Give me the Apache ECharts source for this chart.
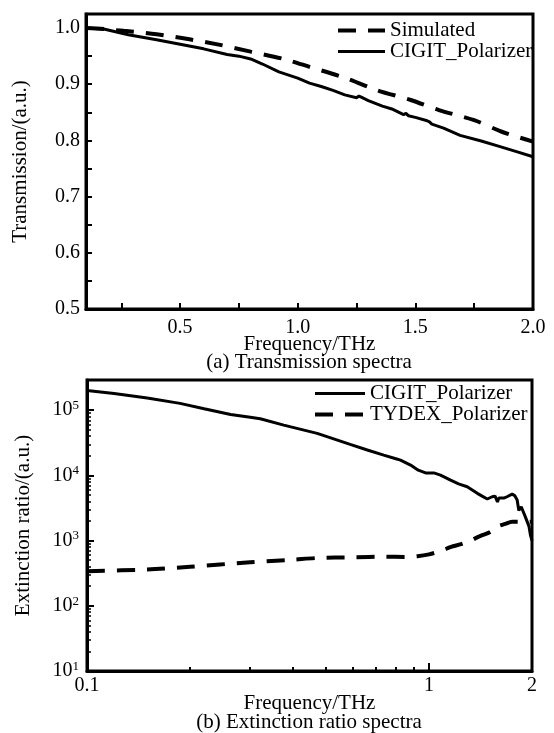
<!DOCTYPE html>
<html><head><meta charset="utf-8">
<script src="https://cdn.jsdelivr.net/npm/echarts@6/dist/echarts.min.js"></script>
<style>html,body{margin:0;padding:0;background:#fff}#c{width:554px;height:733px}</style>
</head><body><div id="c"></div>
<script>
const FONT = 'Liberation Serif';

// ---------- (a) Transmission spectra ----------
const freqSim = [0.10, 0.18, 0.26, 0.40, 0.54, 0.67, 0.80, 0.94, 1.05, 1.21, 1.34, 1.48, 1.60, 1.75, 1.87, 2.00];
const transSim = [1.000, 0.998, 0.995, 0.989, 0.980, 0.970, 0.958, 0.945, 0.931, 0.910, 0.889, 0.872, 0.854, 0.836, 0.815, 0.798];

const freqCigitA = [0.10, 0.18, 0.28, 0.40, 0.50, 0.60, 0.70, 0.75, 0.80, 0.85, 0.92, 1.00, 1.05, 1.10, 1.15, 1.20, 1.25, 1.26, 1.27, 1.30, 1.36, 1.40, 1.45, 1.46, 1.47, 1.50, 1.55, 1.56, 1.57, 1.62, 1.69, 1.78, 1.86, 1.93, 2.00];
const transCigit = [1.000, 0.998, 0.988, 0.979, 0.971, 0.963, 0.953, 0.950, 0.945, 0.936, 0.922, 0.911, 0.902, 0.896, 0.889, 0.881, 0.876, 0.879, 0.877, 0.871, 0.861, 0.856, 0.846, 0.848, 0.844, 0.841, 0.835, 0.833, 0.829, 0.822, 0.809, 0.799, 0.789, 0.780, 0.771];

const xTicksA = [0.25, 0.5, 0.75, 1.0, 1.25, 1.5, 1.75, 2.0];
const xLabelsA = [0.5, 1.0, 1.5, 2.0];
const yTicksA = [0.5, 0.55, 0.6, 0.65, 0.7, 0.75, 0.8, 0.85, 0.9, 0.95, 1.0];
const yLabelsA = [0.5, 0.6, 0.7, 0.8, 0.9, 1.0];

// ---------- (b) Extinction ratio spectra ----------
const freqCigitB = [0.10, 0.12, 0.15, 0.187, 0.22, 0.263, 0.30, 0.321, 0.376, 0.471, 0.588, 0.66, 0.737, 0.80, 0.825, 0.883, 0.93, 0.977, 1.033, 1.08, 1.156, 1.22, 1.293, 1.384, 1.43, 1.48, 1.53, 1.56, 1.585, 1.60, 1.62, 1.66, 1.69, 1.75, 1.78, 1.81, 1.83, 1.86, 1.91, 1.96, 1.98, 2.00];
const extCigit = [2.0e5, 1.8e5, 1.54e5, 1.27e5, 1.05e5, 8.6e4, 7.8e4, 7.4e4, 5.9e4, 4.4e4, 2.98e4, 2.45e4, 2.04e4, 1.8e4, 1.71e4, 1.44e4, 1.2e4, 1.09e4, 1.09e4, 1.01e4, 8.45e3, 7.4e3, 6.7e3, 5.3e3, 4.8e3, 4.34e3, 4.7e3, 4.8e3, 3.9e3, 4.5e3, 4.6e3, 4.5e3, 4.7e3, 5.15e3, 4.9e3, 4.2e3, 2.9e3, 3.3e3, 2.35e3, 1.65e3, 1.2e3, 1.0e3];

const freqTydex = [0.10, 0.15, 0.20, 0.30, 0.40, 0.47, 0.60, 0.74, 0.85, 0.925, 1.00, 1.08, 1.16, 1.24, 1.32, 1.41, 1.51, 1.59, 1.67, 1.75, 2.00];
const extTydex = [340, 360, 397, 465, 510, 540, 555, 565, 560, 575, 615, 690, 800, 880, 1000, 1170, 1350, 1650, 1800, 1950, 1950];

const xLabelsB = [0.1, 1, 2];
const xMinorTicksB = [0.2, 0.3, 0.4, 0.5, 0.6, 0.7, 0.8, 0.9];
const xMajorTicksB = [1];
const yLabelsB = [10, 100, 1000, 10000, 100000];
const yMinorTicksB = [20, 30, 40, 50, 60, 70, 80, 90, 200, 300, 400, 500, 600, 700, 800, 900, 2000, 3000, 4000, 5000, 6000, 7000, 8000, 9000, 20000, 30000, 40000, 50000, 60000, 70000, 80000, 90000, 200000];

const DASH = [18, 12];
const txt = { fontFamily: FONT, color: '#000' };
const pair = (xs, ys) => xs.map((x, i) => [x, ys[i]]);
const black = { color: '#000' };
const solidLS = { color: '#000', width: 3, type: 'solid' };
const dashLS = { color: '#000', width: 4, type: DASH };

const chart = echarts.init(document.getElementById('c'), null, { renderer: 'canvas' });

const legendBase = {
  orient: 'vertical', padding: 0, itemGap: 0, itemHeight: 20, selectedMode: false,
  itemStyle: { opacity: 0, color: 'transparent', borderWidth: 0 },
  textStyle: { fontSize: 21, lineHeight: 20, ...txt }
};

const option = {
  animation: false,
  backgroundColor: '#fff',
  title: [
    { text: '(a) Transmission spectra', left: 309, top: 352, textAlign: 'center', padding: 0,
      textStyle: { fontSize: 21, fontWeight: 'normal', ...txt } },
    { text: '(b) Extinction ratio spectra', left: 309, top: 712, textAlign: 'center', padding: 0,
      textStyle: { fontSize: 21, fontWeight: 'normal', ...txt } }
  ],
  legend: [
    { ...legendBase, left: 336, top: 20, itemWidth: 47,
      data: [{ name: 'Simulated', lineStyle: dashLS }, { name: 'CIGIT_Polarizer', lineStyle: solidLS }] },
    { ...legendBase, left: 313, top: 383, itemWidth: 50,
      data: [{ name: 'CIGIT_Polarizer', lineStyle: solidLS }, { name: 'TYDEX_Polarizer', lineStyle: dashLS }] }
  ],
  grid: [
    { left: 86, top: 14, width: 447, height: 295, show: true, borderColor: '#000', borderWidth: 3, outerBoundsMode: 'none' },
    { left: 87, top: 380, width: 445, height: 291, show: true, borderColor: '#000', borderWidth: 3, outerBoundsMode: 'none' }
  ],
  xAxis: [
    { gridIndex: 0, type: 'value', min: 0.1, max: 2.0, position: 'bottom',
      axisLine: { show: true, lineStyle: { color: '#000', width: 3 } },
      axisTick: { show: true, inside: true, length: 6, lineStyle: { color: '#000', width: 2 }, customValues: xTicksA },
      axisLabel: { customValues: xLabelsA, formatter: v => v.toFixed(1), fontSize: 20, margin: 9, ...txt },
      splitLine: { show: false },
      name: 'Frequency/THz', nameLocation: 'middle', nameGap: 25, nameMoveOverlap: false,
      nameTextStyle: { fontSize: 21, ...txt } },
    { gridIndex: 1, type: 'log', logBase: 10, min: 0.1, max: 2, position: 'bottom',
      axisLine: { show: true, lineStyle: { color: '#000', width: 3 } },
      axisTick: { show: true, inside: true, length: 4, lineStyle: { color: '#000', width: 2 }, customValues: xMinorTicksB },
      axisLabel: { customValues: xLabelsB, formatter: v => String(v), fontSize: 20, margin: 5, ...txt },
      splitLine: { show: false },
      name: 'Frequency/THz', nameLocation: 'middle', nameGap: 22, nameMoveOverlap: false,
      nameTextStyle: { fontSize: 21, ...txt } },
    { gridIndex: 1, type: 'log', logBase: 10, min: 0.1, max: 2, position: 'bottom',
      axisLine: { show: false },
      axisTick: { show: true, inside: true, length: 8, lineStyle: { color: '#000', width: 2 }, customValues: xMajorTicksB },
      axisLabel: { show: false }, splitLine: { show: false } }
  ],
  yAxis: [
    { gridIndex: 0, type: 'value', min: 0.5, max: 1.025, position: 'left',
      axisLine: { show: true, lineStyle: { color: '#000', width: 3 } },
      axisTick: { show: true, inside: true, length: 6, lineStyle: { color: '#000', width: 2 }, customValues: yTicksA },
      axisLabel: { customValues: yLabelsA, formatter: v => v.toFixed(1), fontSize: 20, margin: 6, ...txt },
      splitLine: { show: false },
      name: 'Transmission/(a.u.)', nameLocation: 'middle', nameGap: 55, nameMoveOverlap: false,
      nameTextStyle: { fontSize: 21, ...txt } },
    { gridIndex: 1, type: 'log', logBase: 10, min: 10, max: 2.9e5, position: 'left',
      axisLine: { show: true, lineStyle: { color: '#000', width: 3 } },
      axisTick: { show: true, inside: true, length: 7, lineStyle: { color: '#000', width: 2 }, customValues: yLabelsB },
      axisLabel: { customValues: yLabelsB, margin: 8,
        formatter: v => '{b|10}{s|' + Math.round(Math.log10(v)) + '}',
        rich: { b: { fontSize: 20, lineHeight: 22, ...txt }, s: { fontSize: 13, verticalAlign: 'top', lineHeight: 14, ...txt } } },
      splitLine: { show: false },
      name: 'Extinction ratio/(a.u.)', nameLocation: 'middle', nameGap: 53, nameMoveOverlap: false,
      nameTextStyle: { fontSize: 21, ...txt } },
    { gridIndex: 1, type: 'log', logBase: 10, min: 10, max: 2.9e5, position: 'left',
      axisLine: { show: false },
      axisTick: { show: true, inside: true, length: 4, lineStyle: { color: '#000', width: 1.5 }, customValues: yMinorTicksB },
      axisLabel: { show: false }, splitLine: { show: false } }
  ],
  series: [
    { name: 'Simulated', type: 'line', xAxisIndex: 0, yAxisIndex: 0, data: pair(freqSim, transSim),
      symbol: 'none', smooth: 0.3, itemStyle: black, lineStyle: dashLS },
    { name: 'CIGIT_Polarizer', type: 'line', xAxisIndex: 0, yAxisIndex: 0, data: pair(freqCigitA, transCigit),
      symbol: 'none', itemStyle: black, lineStyle: solidLS },
    { name: 'CIGIT_Polarizer', type: 'line', xAxisIndex: 1, yAxisIndex: 1, data: pair(freqCigitB, extCigit),
      symbol: 'none', itemStyle: black, lineStyle: solidLS },
    { name: 'TYDEX_Polarizer', type: 'line', xAxisIndex: 1, yAxisIndex: 1, data: pair(freqTydex, extTydex),
      symbol: 'none', smooth: 0.3, itemStyle: black, lineStyle: dashLS }
  ]
};
chart.setOption(option);
</script>
</body></html>
